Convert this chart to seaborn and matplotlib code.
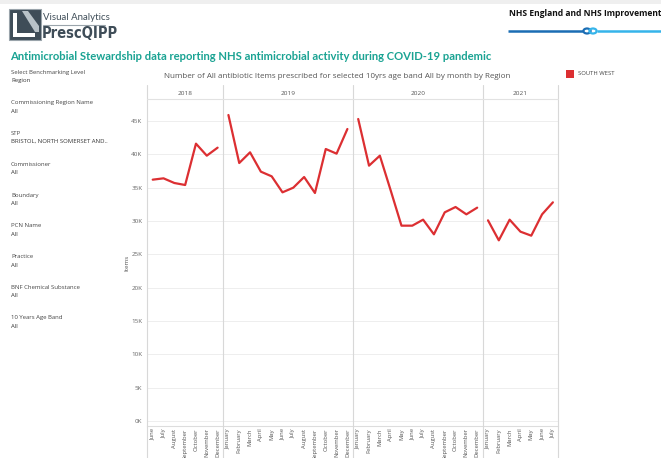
import numpy as np
import pandas as pd
import matplotlib
matplotlib.use("Agg")
import matplotlib.pyplot as plt
from matplotlib.lines import Line2D
from matplotlib.patches import Rectangle, Polygon, Circle
import seaborn as sns

# ---------------- data ----------------
years = ["2018", "2019", "2020", "2021"]
months_2018 = ["June", "July", "August", "September", "October", "November", "December"]
months_full = ["January", "February", "March", "April", "May", "June", "July",
               "August", "September", "October", "November", "December"]
months_2021 = ["January", "February", "March", "April", "May", "June", "July"]

items_2018 = [36200, 36400, 35700, 35400, 41600, 39800, 41000]
items_2019 = [45900, 38700, 40300, 37400, 36700, 34300, 35000, 36600, 34200, 40800, 40100, 43800]
items_2020 = [45300, 38300, 39800, 34600, 29300, 29300, 30200, 28000, 31300, 32100, 31000, 32000]
items_2021 = [30100, 27100, 30200, 28400, 27800, 31000, 32800]

region = "SOUTH WEST"
y_ticks = [0, 5000, 10000, 15000, 20000, 25000, 30000, 35000, 40000, 45000]

month_lists = [months_2018, months_full, months_full, months_2021]
item_lists = [items_2018, items_2019, items_2020, items_2021]

rows = []
for yr, ms, vals in zip(years, month_lists, item_lists):
    for m, v in zip(ms, vals):
        rows.append({"year": yr, "month": m, "items": v, "region": region})
df = pd.DataFrame(rows)
df["slot"] = np.arange(len(df))

# ---------------- figure ----------------
W, H = 661, 458
sns.set_style("white")
plt.rcParams["font.family"] = ["Open Sans", "DejaVu Sans"]

fig = plt.figure(figsize=(W / 100, H / 100), dpi=100)
fig.patch.set_facecolor("white")


def fx(x):
    return x / W


def fy(y):
    return 1 - y / H


def fline(x0, y0, x1, y1, **kw):
    fig.add_artist(Line2D([fx(x0), fx(x1)], [fy(y0), fy(y1)], transform=fig.transFigure, **kw))


# top grey strip
fig.add_artist(Rectangle((0, fy(4)), 1, 4 / H, transform=fig.transFigure, color="#efefef", lw=0))

# ---------------- logo ----------------
logo_c = "#3f4d58"
fig.add_artist(Rectangle((fx(9), fy(40)), 32 / W, 31 / H, transform=fig.transFigure,
                         fc=logo_c, ec="#9aa4ab", lw=0.8))
fig.add_artist(Polygon([(fx(13), fy(13)), (fx(17), fy(13)), (fx(17), fy(33)),
                        (fx(35), fy(33)), (fx(35), fy(37)), (fx(13), fy(37))],
                       closed=True, transform=fig.transFigure, color="white", lw=0))
fig.add_artist(Polygon([(fx(22), fy(11)), (fx(28), fy(11)), (fx(39), fy(26)), (fx(39), fy(32)), (fx(35), fy(32))],
                       closed=True, transform=fig.transFigure, color="#b9c2c8", lw=0))
fig.text(fx(43), fy(17), "Visual Analytics", fontsize=6.9, color=logo_c,
         family=["Lato", "DejaVu Sans"], va="center", ha="left")
fline(43, 24.5, 105, 24.5, color="#9aa4ab", lw=0.8)
fig.text(fx(42), fy(34), "PrescQIPP", fontsize=10.5, color=logo_c, fontweight="bold",
         fontstretch="condensed", family=["DejaVu Sans"], va="center", ha="left")

# ---------------- NHS header ----------------
fig.text(fx(509), fy(14), "NHS England and NHS Improvement", fontsize=6.1, color="#111111",
         fontweight="bold", family=["Open Sans", "DejaVu Sans"], va="center", ha="left")
fline(508, 31, 583, 31, color="#1b6db4", lw=1.8, solid_capstyle="butt")
fline(597, 31, 661, 31, color="#35b4ea", lw=1.8, solid_capstyle="butt")
fig.add_artist(Circle((fx(587), fy(31)), 3.6 / W, transform=fig.transFigure,
                      fill=False, ec="#1b6db4", lw=1.6))
fig.add_artist(Circle((fx(593), fy(31)), 3.6 / W, transform=fig.transFigure,
                      fill=False, ec="#35b4ea", lw=1.6))

# ---------------- main title ----------------
fig.text(fx(10), fy(57), "Antimicrobial Stewardship data reporting NHS antimicrobial activity during COVID-19 pandemic",
         fontsize=8.15, color="#1aa393", fontweight="bold", family=["Lato", "DejaVu Sans"],
         va="center", ha="left")

# ---------------- left filter panel ----------------
filters = [("Select Benchmarking Level", "Region", 72.3),
           ("Commissioning Region Name", "All", 102.7),
           ("STP", "BRISTOL, NORTH SOMERSET AND..", 133.3),
           ("Commissioner", "All", 164.3),
           ("Boundary", "All", 195),
           ("PCN Name", "All", 225.7),
           ("Practice", "All", 256.7),
           ("BNF Chemical Substance", "All", 287.3),
           ("10 Years Age Band", "All", 317.7)]
for lab, val, yy in filters:
    fig.text(fx(11), fy(yy), lab, fontsize=4.3, color="#444444", va="center", ha="left")
    fig.text(fx(11), fy(yy + 8.4), val, fontsize=4.3, color="#333333", va="center", ha="left")

# ---------------- chart title & legend ----------------
fig.text(fx(337), fy(76), "Number of All antibiotic Items prescribed for selected 10yrs age band All by month by Region",
         fontsize=5.8, color="#555555", va="center", ha="center")
line_red = "#dc2f32"
fig.add_artist(Rectangle((fx(566), fy(77.5)), 7.5 / W, 7.5 / H, transform=fig.transFigure,
                         color=line_red, lw=0))
fig.text(fx(578), fy(73.5), region, fontsize=4.2, color="#444444", va="center", ha="left")

# ---------------- main axes ----------------
left, right, top, bottom = 147.3, 558.3, 100.0, 425.7
ax = fig.add_axes([fx(left), fy(bottom), (right - left) / W, (bottom - top) / H])

sns.lineplot(data=df, x="slot", y="items", units="year", estimator=None,
             color=line_red, lw=1.6, ax=ax, legend=False)

n = len(df)
ax.set_xlim(-0.5, n - 0.5)
px_per_k = (421 - 121) / 45.0
ax.set_ylim(-(bottom - 421) / px_per_k * 1000, (421 - top) / px_per_k * 1000)

ax.set_yticks(y_ticks)
ax.set_yticklabels([f"{int(v / 1000)}K" for v in y_ticks])
ax.set_xticks(df["slot"])
ax.set_xticklabels(df["month"], rotation=90, va="top", ha="center")
ax.tick_params(axis="x", length=0, pad=2.0, labelsize=4.2, labelcolor="#555555")
ax.tick_params(axis="y", length=0, pad=3.5, labelsize=4.5, labelcolor="#666666")
ax.set_xlabel("")
ax.set_ylabel("Items", fontsize=4.5, color="#555555", labelpad=1)
ax.yaxis.grid(True, color="#eeeeee", lw=0.7)
ax.xaxis.grid(False)
for s in ["top", "right", "left"]:
    ax.spines[s].set_visible(False)
ax.spines["bottom"].set_color("#dddddd")
ax.spines["bottom"].set_linewidth(0.8)

# panel dividers and year headers
counts = [len(m) for m in item_lists]
edges = np.concatenate([[0], np.cumsum(counts)]) - 0.5
slot_w = (right - left) / n
for e in edges:
    xp = left + (e + 0.5) * slot_w
    fline(xp, 85, xp, 458, color="#d8d8d8", lw=0.8)
fline(left, 99.3, right, 99.3, color="#e2e2e2", lw=0.8)
for yr, a, b in zip(years, edges[:-1], edges[1:]):
    xc = left + ((a + b) / 2 + 0.5) * slot_w
    fig.text(fx(xc), fy(93.5), yr, fontsize=4.6, color="#555555", va="center", ha="center")

fig.savefig("out.png", dpi=100, facecolor="white")
